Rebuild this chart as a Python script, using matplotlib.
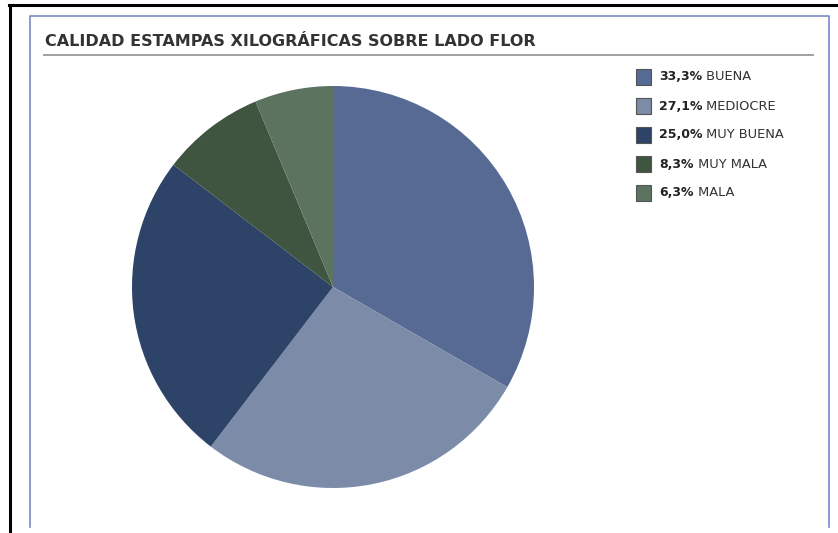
import matplotlib.pyplot as plt
from matplotlib.patches import Rectangle
from matplotlib.lines import Line2D

title = 'CALIDAD ESTAMPAS XILOGRÁFICAS SOBRE LADO FLOR'
labels = ['BUENA', 'MEDIOCRE', 'MUY BUENA', 'MUY MALA', 'MALA']
percents = ['33,3%', '27,1%', '25,0%', '8,3%', '6,3%']
values = [33.3, 27.1, 25.0, 8.3, 6.3]
colors = ['#566a93', '#7b8ba8', '#2d4368', '#3f553f', '#5c735f']

W, H = 838, 533
fig = plt.figure(figsize=(W / 100, H / 100), dpi=100)
fig.patch.set_facecolor('white')


def fx(x):
    return x / W


def fy(y):
    return 1 - y / H


# outer black frame (top + left only)
fig.add_artist(Line2D([fx(9), fx(838)], [fy(5), fy(5)], color='black', lw=2.2))
fig.add_artist(Line2D([fx(9.5), fx(9.5)], [fy(5), fy(533)], color='black', lw=2.2))

# inner blue frame
fig.add_artist(Line2D([fx(30), fx(30), fx(829), fx(829)],
                      [fy(527), fy(16), fy(16), fy(527)],
                      color='#7b87c8', lw=1.2))

fig.text(fx(45), fy(42), title, fontsize=11.5, fontweight='bold',
         color='#333333', va='center', ha='left')
fig.add_artist(Line2D([fx(44), fx(813)], [fy(54.5), fy(54.5)], color='#a0a0a0', lw=1.4))

# pie
cx, cy, r = 333, 287, 201
ax = fig.add_axes([fx(cx - r), fy(cy + r), 2 * r / W, 2 * r / H])
ax.pie(values, colors=colors, startangle=90, counterclock=False,
       wedgeprops=dict(linewidth=0))
ax.set_xlim(-1, 1)
ax.set_ylim(-1, 1)
ax.set_aspect('auto')
ax.axis('off')

# legend
for i, (p, lab, c) in enumerate(zip(percents, labels, colors)):
    y = 77 + i * 29
    fig.add_artist(Rectangle((fx(636), fy(y + 8)), 15 / W, 16 / H,
                             facecolor=c, edgecolor='#555555', lw=0.8))
    t = fig.text(fx(659), fy(y), p, fontsize=9, fontweight='bold',
                 color='#222222', va='center', ha='left')
    ax.annotate(' ' + lab, xy=(1, 0.5), xycoords=t, fontsize=9.4,
                color='#333333', va='center', ha='left', annotation_clip=False)

fig.savefig('out.png', dpi=100)
